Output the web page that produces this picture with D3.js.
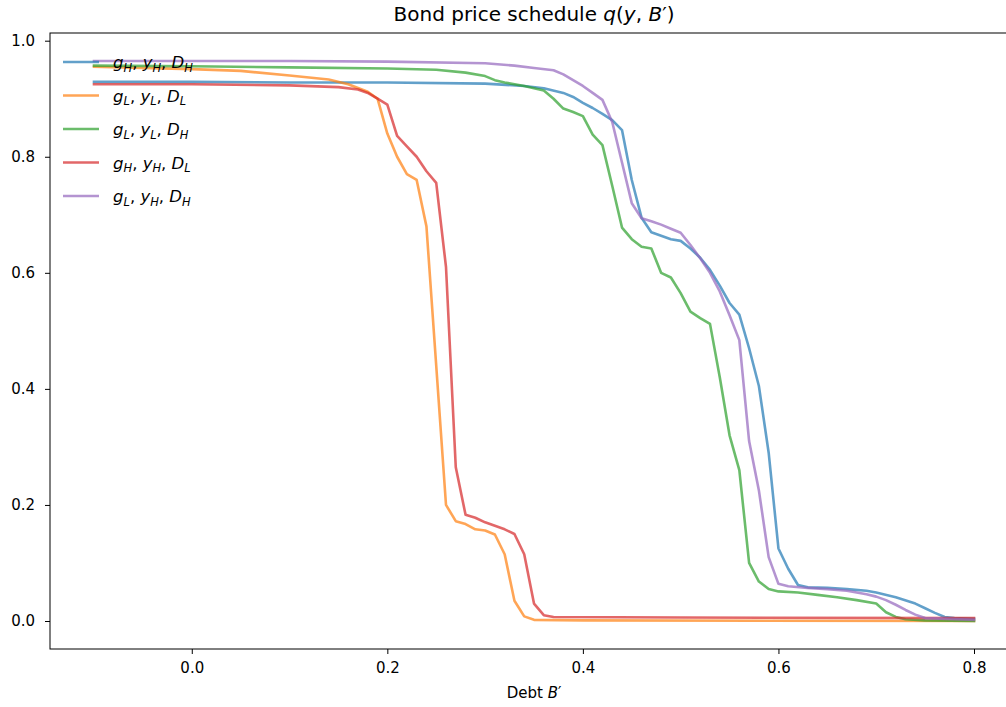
<!DOCTYPE html>
<html>
<head>
<meta charset="utf-8">
<script src="https://cdn.jsdelivr.net/npm/d3@7"></script>
<style>
  body { margin: 0; background: #fff; }
  text { font-family: "DejaVu Sans", sans-serif; fill: #000; }
</style>
</head>
<body>
<div id="chart"></div>
<script>
// bond price schedule q(y, B') for the five states

var xTicks = [0.0, 0.2, 0.4, 0.6, 0.8];
var yTicks = [0.0, 0.2, 0.4, 0.6, 0.8, 1.0];

var seriesNames = ["gHyHDH", "gLyLDL", "gLyLDH", "gHyHDL", "gLyHDH"];

// [B', q]
var gHyHDH = [[-0.1,0.929],[0.0,0.929],[0.1,0.928],[0.2,0.928],[0.3,0.926],[0.34,0.922],[0.36,0.918],[0.38,0.91],[0.39,0.903],[0.40,0.893],[0.41,0.884],[0.42,0.874],[0.43,0.863],[0.44,0.846],[0.45,0.76],[0.46,0.695],[0.47,0.670],[0.48,0.664],[0.49,0.658],[0.50,0.655],[0.51,0.642],[0.52,0.626],[0.53,0.605],[0.54,0.578],[0.55,0.548],[0.56,0.528],[0.57,0.47],[0.58,0.405],[0.59,0.29],[0.60,0.125],[0.61,0.09],[0.62,0.062],[0.63,0.058],[0.65,0.057],[0.67,0.055],[0.69,0.052],[0.70,0.049],[0.72,0.041],[0.74,0.030],[0.75,0.022],[0.76,0.014],[0.77,0.007],[0.78,0.005],[0.8,0.004]];

var gLyLDL = [[-0.1,0.955],[0.0,0.951],[0.05,0.948],[0.1,0.94],[0.14,0.933],[0.16,0.925],[0.18,0.912],[0.19,0.90],[0.20,0.84],[0.21,0.80],[0.22,0.77],[0.23,0.76],[0.24,0.68],[0.25,0.44],[0.26,0.20],[0.27,0.172],[0.28,0.167],[0.29,0.158],[0.30,0.156],[0.31,0.149],[0.32,0.115],[0.33,0.035],[0.34,0.008],[0.35,0.002],[0.4,0.001],[0.8,0.0]];

var gLyLDH = [[-0.1,0.957],[0.0,0.956],[0.1,0.954],[0.2,0.952],[0.25,0.950],[0.28,0.945],[0.30,0.939],[0.31,0.932],[0.32,0.928],[0.34,0.922],[0.36,0.914],[0.37,0.9],[0.38,0.883],[0.39,0.877],[0.40,0.87],[0.41,0.838],[0.42,0.82],[0.43,0.75],[0.44,0.678],[0.45,0.658],[0.46,0.645],[0.47,0.642],[0.48,0.60],[0.49,0.592],[0.50,0.565],[0.51,0.533],[0.52,0.522],[0.53,0.512],[0.54,0.42],[0.55,0.32],[0.56,0.26],[0.57,0.10],[0.58,0.068],[0.59,0.055],[0.60,0.051],[0.62,0.049],[0.64,0.045],[0.66,0.041],[0.68,0.036],[0.70,0.030],[0.71,0.015],[0.72,0.007],[0.73,0.003],[0.75,0.001],[0.8,0.0]];

var gHyHDL = [[-0.1,0.925],[0.0,0.925],[0.1,0.923],[0.15,0.92],[0.17,0.916],[0.18,0.91],[0.19,0.90],[0.20,0.89],[0.21,0.836],[0.22,0.818],[0.23,0.80],[0.24,0.775],[0.25,0.755],[0.26,0.61],[0.27,0.265],[0.28,0.183],[0.29,0.178],[0.30,0.17],[0.31,0.164],[0.32,0.158],[0.33,0.15],[0.34,0.115],[0.35,0.03],[0.36,0.01],[0.37,0.007],[0.5,0.006],[0.8,0.005]];

var gLyHDH = [[-0.1,0.965],[0.1,0.965],[0.2,0.964],[0.3,0.961],[0.33,0.957],[0.35,0.953],[0.37,0.949],[0.38,0.942],[0.39,0.932],[0.40,0.922],[0.41,0.91],[0.42,0.898],[0.43,0.86],[0.44,0.79],[0.45,0.72],[0.46,0.694],[0.47,0.689],[0.48,0.683],[0.49,0.676],[0.50,0.669],[0.51,0.648],[0.52,0.625],[0.53,0.60],[0.54,0.568],[0.55,0.527],[0.56,0.484],[0.57,0.31],[0.58,0.225],[0.59,0.11],[0.60,0.064],[0.61,0.06],[0.63,0.057],[0.65,0.055],[0.67,0.052],[0.69,0.046],[0.70,0.042],[0.71,0.036],[0.72,0.028],[0.73,0.019],[0.74,0.011],[0.75,0.005],[0.8,0.002]];

// legend labels: [letter, subscript] pieces, extra space before D in the third
var legendLabels = [
  [["g","H"],["y","H"],["D","H"]],
  [["g","L"],["y","L"],["D","L"]],
  [["g","L"],["y","L"],["D","H"]],
  [["g","H"],["y","H"],["D","L"]],
  [["g","L"],["y","H"],["D","H"]]
];

var colors = ["#1f77b4", "#ff7f0e", "#2ca02c", "#d62728", "#9467bd"];
var allSeries = [gHyHDH, gLyLDL, gLyLDH, gHyHDL, gLyHDH];

var W = 1006, H = 707;
var margin = {top: 33, left: 50, bottom: 58, right: -12};

var svg = d3.select("#chart")
  .append("svg")
    .attr("width", W)
    .attr("height", H);

// matplotlib style 5% margins around the data
var xExt = d3.extent(d3.merge(allSeries), function(d) { return d[0]; });
var yExt = d3.extent(d3.merge(allSeries), function(d) { return d[1]; });
var xPad = (xExt[1] - xExt[0]) * 0.05, yPad = (yExt[1] - yExt[0]) * 0.05;

var x = d3.scaleLinear()
  .domain([xExt[0] - xPad, xExt[1] + xPad])
  .range([margin.left, W - margin.right]);

var y = d3.scaleLinear()
  .domain([yExt[0] - yPad, yExt[1] + yPad])
  .range([H - margin.bottom, margin.top]);

// lines
var line = d3.line()
  .x(function(d) { return x(d[0]); })
  .y(function(d) { return y(d[1]); });

svg.append("g")
  .selectAll("path")
  .data(allSeries)
  .enter()
  .append("path")
    .attr("d", line)
    .attr("fill", "none")
    .attr("stroke", function(d, i) { return colors[i]; })
    .attr("stroke-opacity", 0.7)
    .attr("stroke-width", 2.6)
    .attr("stroke-linejoin", "round")
    .attr("stroke-linecap", "square");

// X axis
var xAxis = svg.append("g")
  .attr("transform", "translate(0," + y.range()[0] + ")")
  .call(d3.axisBottom(x).tickValues(xTicks).tickFormat(d3.format(".1f")).tickSize(5).tickPadding(8));

// Y axis
var yAxis = svg.append("g")
  .attr("transform", "translate(" + x.range()[0] + ",0)")
  .call(d3.axisLeft(y).tickValues(yTicks).tickFormat(d3.format(".1f")).tickSize(5).tickPadding(10));

[xAxis, yAxis].forEach(function(a) {
  a.selectAll("text").style("font-size", "15px").style("font-family", "DejaVu Sans");
  a.selectAll("line").attr("stroke", "#000").attr("stroke-width", 1);
  a.select(".domain").remove();
});

// spines (box goes off the right edge like in the picture)
svg.append("rect")
  .attr("x", x.range()[0])
  .attr("y", y.range()[1])
  .attr("width", x.range()[1] - x.range()[0])
  .attr("height", y.range()[0] - y.range()[1])
  .attr("fill", "none")
  .attr("stroke", "#000")
  .attr("stroke-width", 1);

// title
var title = svg.append("text")
  .attr("x", (x.range()[0] + x.range()[1]) / 2)
  .attr("y", 21)
  .attr("text-anchor", "middle")
  .style("font-size", "20px");
title.append("tspan").text("Bond price schedule ");
title.append("tspan").style("font-style", "italic").text("q");
title.append("tspan").text("(");
title.append("tspan").style("font-style", "italic").text("y");
title.append("tspan").text(", ");
title.append("tspan").style("font-style", "italic").text("B");
title.append("tspan").text("′)");

// x label
var xlab = svg.append("text")
  .attr("x", (x.range()[0] + x.range()[1]) / 2)
  .attr("y", 698)
  .attr("text-anchor", "middle")
  .style("font-size", "15px");
xlab.append("tspan").text("Debt ");
xlab.append("tspan").style("font-style", "italic").text("B");
xlab.append("tspan").text("′");

// legend
var legend = svg.append("g")
  .selectAll("g")
  .data(legendLabels)
  .enter()
  .append("g")
    .attr("transform", function(d, i) { return "translate(63," + (62 + i * 33.5) + ")"; });

legend.append("line")
  .attr("x1", 0).attr("x2", 36)
  .attr("stroke", function(d, i) { return colors[i]; })
  .attr("stroke-opacity", 0.7)
  .attr("stroke-width", 2.6);

legend.append("text")
  .attr("x", 50)
  .attr("y", 6)
  .style("font-size", "16.5px")
  .each(function(d, i) {
    var t = d3.select(this);
    d.forEach(function(p, j) {
      if (j > 0) t.append("tspan").attr("dy", -3.5).text(i == 2 && j == 2 ? ",  " : ", ");
      t.append("tspan").attr("dy", j > 0 ? 0 : null).style("font-style", "italic").text(p[0]);
      t.append("tspan").attr("dy", 3.5).style("font-style", "italic").style("font-size", "11.5px").text(p[1]);
    });
  });
</script>
</body>
</html>
